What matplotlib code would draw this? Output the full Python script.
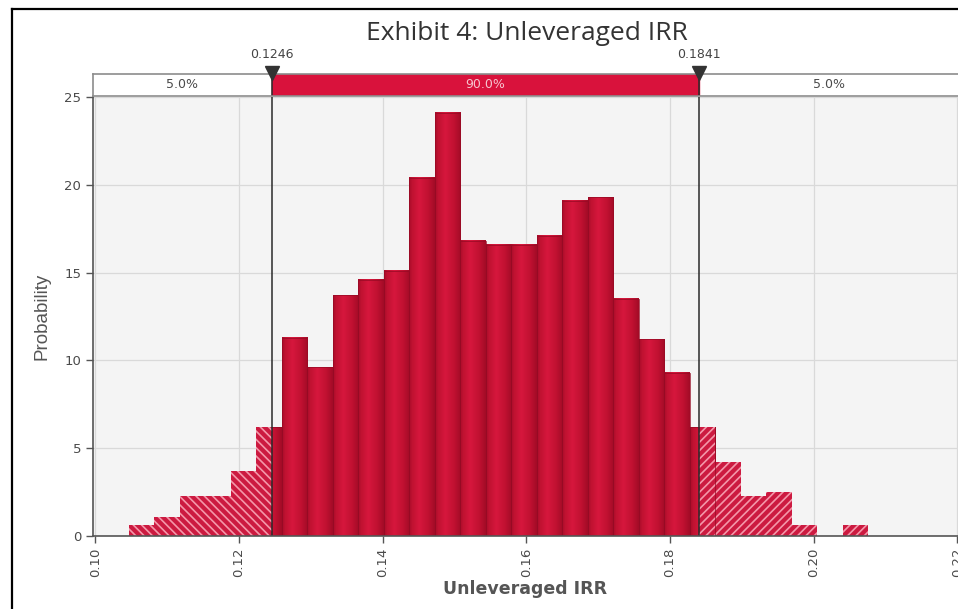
import numpy as np
import matplotlib
matplotlib.use("Agg")
import matplotlib.pyplot as plt
from matplotlib.colors import LinearSegmentedColormap
from matplotlib.lines import Line2D
from matplotlib import font_manager

# ---------------- data ----------------
bin_lo = 0.1047
bin_hi = 0.2076
n_bins = 29
density = [0.6, 1.1, 2.3, 2.3, 3.7, 6.2, 11.3, 9.6, 13.7, 14.6, 15.1, 20.4, 24.1,
           16.8, 16.6, 16.6, 17.1, 19.1, 19.3, 13.5, 11.2, 9.3, 6.2, 4.2, 2.3,
           2.5, 0.6, 0.0, 0.6]
p_low = 0.1246
p_high = 0.1841
band_labels = ["5.0%", "90.0%", "5.0%"]
x_ticks = [0.10, 0.12, 0.14, 0.16, 0.18, 0.20, 0.22]
y_ticks = [0, 5, 10, 15, 20, 25]
title = "Exhibit 4: Unleveraged IRR"
xlabel = "Unleveraged IRR"
ylabel = "Probability"

# ---------------- style ----------------
W, H = 958, 609
DPI = 100
fig = plt.figure(figsize=(W / DPI, H / DPI), dpi=DPI, facecolor="white")
plt.rcParams["hatch.linewidth"] = 1.2

names = {f.name for f in font_manager.fontManager.ttflist}
narrow = "Liberation Sans Narrow" if "Liberation Sans Narrow" in names else "Liberation Sans"

def px_rect(x0, y0, x1, y1):
    return [x0 / W, 1 - y1 / H, (x1 - x0) / W, (y1 - y0) / H]

XMIN, XMAX = 0.0997, 0.2201
ax = fig.add_axes(px_rect(93, 97, 958, 536))
ax.set_facecolor("#f4f4f4")
ax.set_xlim(XMIN, XMAX)
ax.set_ylim(0, 25)

edges = np.linspace(bin_lo, bin_hi, n_bins + 1)

red_hatch_face = "#cc1a40"
hatch_col = "#f497aa"
grad = LinearSegmentedColormap.from_list(
    "g", [(0.0, "#a80c2a"), (0.12, "#c01231"), (0.4, "#d6173d"), (0.75, "#c01131"), (1.0, "#a30b27")])
gimg = np.linspace(0, 1, 64).reshape(1, -1)

for i, h in enumerate(density):
    if h <= 0:
        continue
    l, r = edges[i], edges[i + 1]
    if l < p_low:
        rr = min(r, p_low)
        ax.bar(l, h, rr - l, align="edge", facecolor=red_hatch_face, edgecolor=hatch_col,
               hatch="\\\\\\\\", linewidth=0, zorder=3)
    if r > p_high:
        ll = max(l, p_high)
        ax.bar(ll, h, r - ll, align="edge", facecolor=red_hatch_face, edgecolor=hatch_col,
               hatch="////", linewidth=0, zorder=3)
    ml, mr = max(l, p_low), min(r, p_high)
    if mr > ml:
        ax.imshow(gimg, cmap=grad, extent=[l, r, 0, h], aspect="auto", zorder=3,
                  interpolation="bilinear")
        ax.bar(l, h, r - l, align="edge", facecolor="none", edgecolor="#960a24",
               linewidth=0.5, zorder=4)

# hatched segments of bins that straddle a percentile cut, drawn above the gradient
for i, h in enumerate(density):
    l, r = edges[i], edges[i + 1]
    if l < p_low < r:
        ax.bar(l, h, p_low - l, align="edge", facecolor=red_hatch_face, edgecolor=hatch_col,
               hatch="\\\\\\\\", linewidth=0, zorder=5)
    if l < p_high < r:
        ax.bar(p_high, h, r - p_high, align="edge", facecolor=red_hatch_face, edgecolor=hatch_col,
               hatch="////", linewidth=0, zorder=5)

ax.set_xlim(XMIN, XMAX)
ax.set_ylim(0, 25)

for v in (p_low, p_high):
    ax.axvline(v, color="#2a2a2a", lw=1.1, zorder=6)

ax.set_xticks(x_ticks)
ax.set_xticklabels([f"{t:.2f}" for t in x_ticks], rotation=90)
ax.set_yticks(y_ticks)
ax.grid(True, color="#d9d9d9", lw=0.9, zorder=0)
ax.set_axisbelow(True)
for s in ("top", "right"):
    ax.spines[s].set_visible(False)
for s in ("left", "bottom"):
    ax.spines[s].set_color("#555555")
    ax.spines[s].set_linewidth(1.2)
    ax.spines[s].set_zorder(7)
ax.tick_params(axis="both", colors="#555555", labelcolor="#4a4a4a", length=5, width=1,
               labelsize=9.5)

ax.set_xlabel(xlabel, fontsize=12.5, color="#555555", fontweight="semibold", labelpad=2)
ax.set_ylabel(ylabel, fontsize=13.5, color="#555555", family=narrow, labelpad=10)

# ---------------- percentile band ----------------
axb = fig.add_axes(px_rect(93, 74, 958, 96))
axb.set_xlim(XMIN, XMAX)
axb.set_ylim(0, 1)
axb.set_facecolor("white")
axb.axvspan(p_low, p_high, color="#d9123c", zorder=1)
axb.set_xticks([])
axb.set_yticks([])
for s in axb.spines.values():
    s.set_color("#8c8c8c")
    s.set_linewidth(1.2)
axb.spines["right"].set_visible(False)
for v in (p_low, p_high):
    axb.axvline(v, color="#2a2a2a", lw=1.1, zorder=2)
axb.text((XMIN + p_low) / 2, 0.5, band_labels[0], ha="center", va="center", fontsize=9,
         color="#4a4a4a")
axb.text((p_low + p_high) / 2, 0.5, band_labels[1], ha="center", va="center", fontsize=9,
         color="#f6c5cf")
axb.text((p_high + XMAX) / 2, 0.5, band_labels[2], ha="center", va="center", fontsize=9,
         color="#4a4a4a")
for v in (p_low, p_high):
    axb.plot([v], [1.05], marker="v", markersize=10, color="#333333", clip_on=False, zorder=5)
    axb.text(v, 1.6, f"{v:.4f}", ha="center", va="bottom", fontsize=9, color="#444444",
             clip_on=False)

# ---------------- title & frame ----------------
fig.text(527 / W, 1 - 34 / H, title, ha="center", va="center", fontsize=19,
         family="Open Sans", color="#333333")
fig.add_artist(Line2D([12 / W, 12 / W], [0, 1 - 9 / H], color="black", lw=1.6,
                      transform=fig.transFigure))
fig.add_artist(Line2D([12 / W, 1], [1 - 9 / H, 1 - 9 / H], color="black", lw=1.6,
                      transform=fig.transFigure))

fig.savefig("out.png", dpi=DPI, facecolor="white")
